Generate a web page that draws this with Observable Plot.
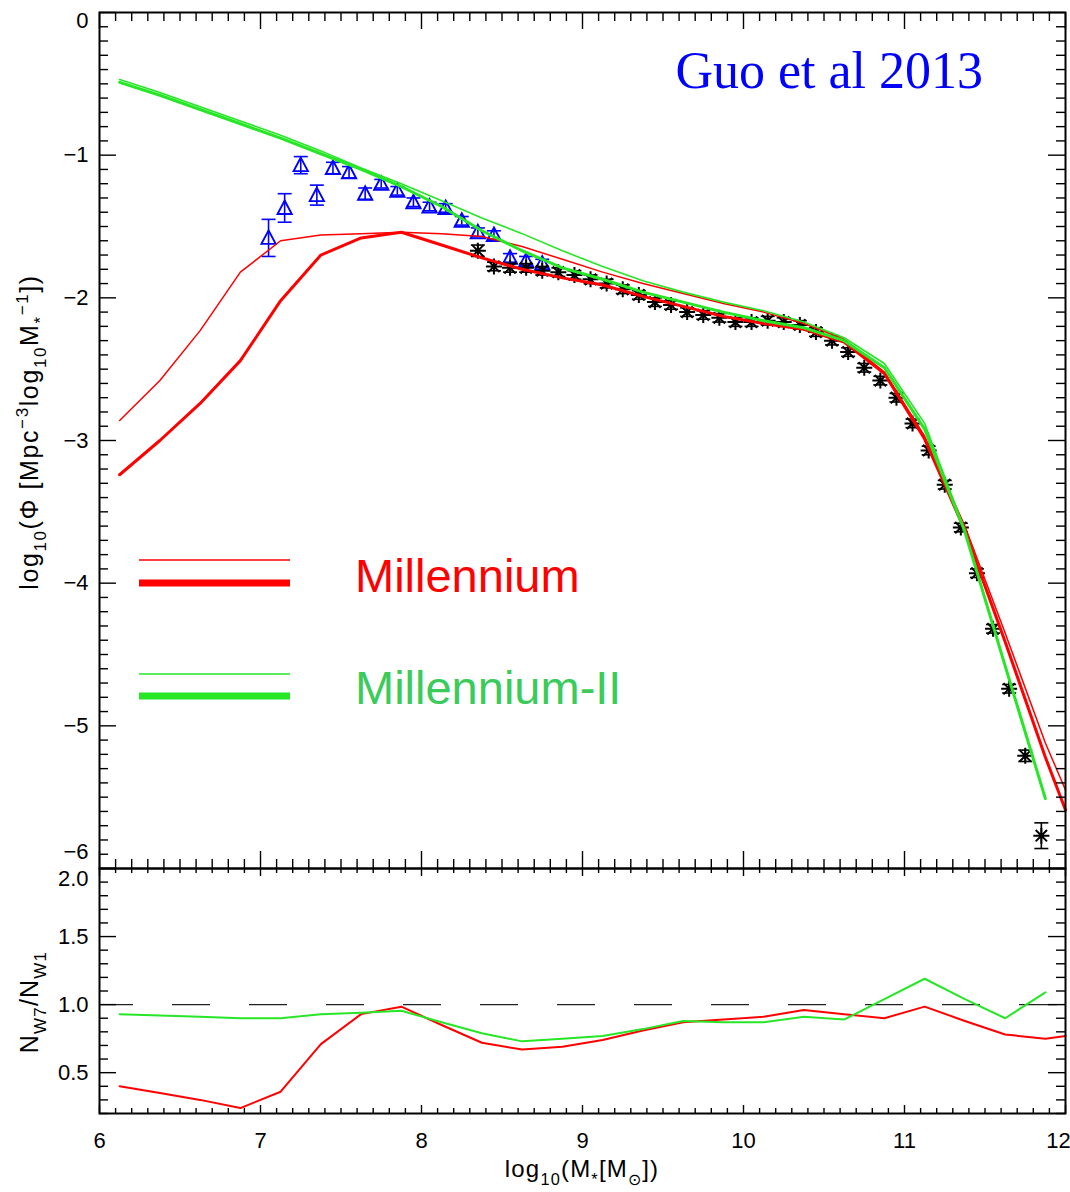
<!DOCTYPE html>
<html>
<head>
<meta charset="utf-8">
<script src="https://cdn.jsdelivr.net/npm/d3@7"></script>
<script src="https://cdn.jsdelivr.net/npm/@observablehq/plot@0.6"></script>
<style>
  html, body { margin: 0; padding: 0; background: #fff; }
  #chart { width: 1070px; }
  #chart svg { display: block; }
</style>
</head>
<body>
<div id="chart"></div>
<script>
// ---- Model stellar mass functions (log10 M*, 0.25 dex bins) ----
const modelMass = [6.125, 6.375, 6.625, 6.875, 7.125, 7.375, 7.625, 7.875, 8.125, 8.375, 8.625, 8.875,
  9.125, 9.375, 9.625, 9.875, 10.125, 10.375, 10.625, 10.875, 11.125, 11.375, 11.625, 11.875];
const redMass = [6.125, 6.375, 6.625, 6.875, 7.125, 7.375, 7.625, 7.875, 8.125, 8.375, 8.625, 8.875,
  9.125, 9.375, 9.625, 9.875, 10.125, 10.375, 10.625, 10.875, 11.125, 11.375, 11.625, 11.875, 12.0];

// Millennium (thin / thick)
const millThin = [-2.86, -2.58, -2.23, -1.82, -1.60, -1.56, -1.55, -1.54, -1.55, -1.57, -1.64, -1.73,
  -1.82, -1.90, -1.97, -2.04, -2.10, -2.18, -2.29, -2.52, -2.97, -3.60, -4.35, -5.12, -5.45];
const millThick = [-3.24, -3.00, -2.74, -2.44, -2.02, -1.70, -1.58, -1.54, -1.63, -1.72, -1.80, -1.86,
  -1.91, -1.99, -2.06, -2.13, -2.18, -2.22, -2.31, -2.53, -2.99, -3.63, -4.41, -5.22, -5.59];

// Millennium-II (thin / thick)
const mill2Thin = [-0.47, -0.56, -0.66, -0.76, -0.86, -0.97, -1.09, -1.20, -1.32, -1.44, -1.55, -1.67,
  -1.78, -1.88, -1.96, -2.03, -2.09, -2.17, -2.28, -2.46, -2.88, -3.63, -4.58, -5.51];
const mill2Thick = [-0.49, -0.58, -0.68, -0.78, -0.88, -0.99, -1.10, -1.22, -1.36, -1.53, -1.67, -1.79,
  -1.87, -1.96, -2.03, -2.10, -2.16, -2.21, -2.30, -2.49, -2.92, -3.64, -4.58, -5.51];

// ---- Ratio panel N_W7 / N_W1 ----
const ratioMill = [0.40, 0.35, 0.30, 0.24, 0.36, 0.71, 0.93, 0.985, 0.85, 0.72, 0.67, 0.69,
  0.74, 0.81, 0.87, 0.89, 0.91, 0.96, 0.93, 0.90, 0.985, 0.88, 0.78, 0.75, 0.77];
const ratioMill2 = [0.93, 0.92, 0.91, 0.90, 0.90, 0.93, 0.94, 0.955, 0.87, 0.79, 0.73, 0.75,
  0.77, 0.82, 0.88, 0.87, 0.87, 0.91, 0.89, 1.04, 1.19, 1.04, 0.90, 1.09];

// ---- Observations: low-mass (triangles) ----
const triMass = [7.05, 7.15, 7.25, 7.35, 7.45, 7.55, 7.65, 7.75, 7.85, 7.95, 8.05, 8.15, 8.25, 8.35, 8.45, 8.55, 8.65, 8.75];
const triPhi  = [-1.58, -1.37, -1.07, -1.28, -1.09, -1.12, -1.27, -1.20, -1.25, -1.33, -1.36, -1.37, -1.46, -1.54, -1.56, -1.72, -1.74, -1.76];
const triErr  = [0.13, 0.10, 0.06, 0.07, 0.04, 0.04, 0.04, 0.03, 0.03, 0.03, 0.03, 0.03, 0.03, 0.03, 0.03, 0.03, 0.03, 0.03];

// ---- Observations: SDSS (asterisks) ----
const starMass = [8.35, 8.45, 8.55, 8.65, 8.75, 8.85, 8.95, 9.05, 9.15, 9.25, 9.35, 9.45, 9.55, 9.65, 9.75, 9.85, 9.95,
  10.05, 10.15, 10.25, 10.35, 10.45, 10.55, 10.65, 10.75, 10.85, 10.95, 11.05, 11.15, 11.25, 11.35, 11.45, 11.55, 11.65, 11.75, 11.85];
const starPhi = [-1.67, -1.78, -1.79, -1.79, -1.81, -1.82, -1.84, -1.87, -1.90, -1.94, -1.98, -2.03, -2.05, -2.10, -2.12, -2.14, -2.17,
  -2.17, -2.16, -2.17, -2.19, -2.24, -2.30, -2.38, -2.49, -2.58, -2.70, -2.88, -3.07, -3.31, -3.61, -3.93, -4.32, -4.74, -5.21, -5.77];
const starErr = [0.04, 0.03, 0.03, 0.03, 0.03, 0.03, 0.03, 0.03, 0.03, 0.03, 0.03, 0.03, 0.03, 0.03, 0.03, 0.03, 0.03,
  0.03, 0.03, 0.03, 0.03, 0.03, 0.03, 0.03, 0.03, 0.03, 0.03, 0.03, 0.03, 0.03, 0.03, 0.03, 0.03, 0.03, 0.04, 0.09];

// ---- Axis ticks ----
const xMajor = [6, 7, 8, 9, 10, 11, 12];
const xMinor = d3.range(60, 121).filter(i => i % 10 !== 0).map(i => i / 10);
const phiMajor = [0, -1, -2, -3, -4, -5, -6];
const phiMinor = d3.range(-60, 1).filter(i => i % 10 !== 0).map(i => i / 10);
const ratioMajor = [0.5, 1.0, 1.5, 2.0];
const ratioMinor = d3.range(2, 21).filter(i => i % 5 !== 0).map(i => i / 10);

// ---- Colours & fonts ----
const RED = "#ff0000";
const GREEN = "#26e626";
const GREEN_TEXT = "#3acb5a";
const BLUE = "#0000ff";
const SANS = "'Liberation Sans', Arial, Helvetica, sans-serif";
const SERIF = "'Liberation Serif', 'Times New Roman', serif";

// ---- Layout ----
const W = 1070, ML = 99, MR = 5;
const FW = W - ML - MR;             // frame width
const TOP_H = 868, TOP_MT = 12;     // upper panel svg
const BOT_H = 324, BOT_MB = 79;     // lower panel svg
const TOP_FH = TOP_H - TOP_MT;
const BOT_FH = BOT_H - BOT_MB;

// ---- Custom symbols ----
const asterisk = {
  draw(ctx, size) {
    const r = Math.sqrt(size / Math.PI), d = r * Math.SQRT1_2;
    ctx.moveTo(-r, 0); ctx.lineTo(r, 0);
    ctx.moveTo(0, -r); ctx.lineTo(0, r);
    ctx.moveTo(-d, -d); ctx.lineTo(d, d);
    ctx.moveTo(-d, d); ctx.lineTo(d, -d);
  }
};
const openTriangle = {
  draw(ctx, size) {
    const r = Math.sqrt(size / Math.PI);
    ctx.moveTo(0, -r);
    ctx.lineTo(r * 0.95, r * 0.8);
    ctx.lineTo(-r * 0.95, r * 0.8);
    ctx.closePath();
  }
};
const cap = {
  draw(ctx, size) {
    const r = Math.sqrt(size / Math.PI);
    ctx.moveTo(-r, 0); ctx.lineTo(r, 0);
  }
};

// Inward ticks on both opposite edges of a frame
function ticksX(values, len, fh) {
  const o = {x: d => d, stroke: "black", strokeWidth: 1.4};
  return [Plot.tickX(values, {...o, insetBottom: fh - len}), Plot.tickX(values, {...o, insetTop: fh - len})];
}
function ticksY(values, len, fw) {
  const o = {y: d => d, stroke: "black", strokeWidth: 1.4};
  return [Plot.tickY(values, {...o, insetRight: fw - len}), Plot.tickY(values, {...o, insetLeft: fw - len})];
}

// Text with sub/superscripts, drawn as a render-function mark
function richText(parts, {x, y, size, rotate = 0, fill = "black", family = SANS, anchor = "middle", spacing = 0}) {
  return (index, scales, values, dims) => {
    const px = typeof x === "function" ? x(dims) : x;
    const py = typeof y === "function" ? y(dims) : y;
    const t = d3.create("svg:text")
      .attr("transform", `translate(${px},${py}) rotate(${rotate})`)
      .attr("text-anchor", anchor)
      .attr("font-family", family)
      .attr("font-size", size)
      .attr("letter-spacing", spacing)
      .attr("fill", fill);
    let shift = 0;
    for (const [str, kind] of parts) {
      const target = kind === "sub" ? size * 0.32 : kind === "sup" ? -size * 0.42 : 0;
      const span = t.append("tspan").attr("dy", target - shift).text(str);
      if (kind) span.attr("font-size", size * 0.68);
      shift = target;
    }
    return t.node();
  };
}

function legend(index, scales, values, dims) {
  const g = d3.create("svg:g");
  const x0 = dims.marginLeft + 40, x1 = dims.marginLeft + 191, tx = dims.marginLeft + 256;
  const rows = [
    {label: "Millennium", line: RED, text: RED, thin: 548, thick: 571, base: 580},
    {label: "Millennium-II", line: GREEN, text: GREEN_TEXT, thin: 662, thick: 684, base: 692}
  ];
  for (const r of rows) {
    g.append("line").attr("x1", x0).attr("x2", x1)
      .attr("y1", dims.marginTop + r.thin).attr("y2", dims.marginTop + r.thin)
      .attr("stroke", r.line).attr("stroke-width", 1.3);
    g.append("line").attr("x1", x0).attr("x2", x1)
      .attr("y1", dims.marginTop + r.thick).attr("y2", dims.marginTop + r.thick)
      .attr("stroke", r.line).attr("stroke-width", 7);
    g.append("text").attr("x", tx).attr("y", dims.marginTop + r.base)
      .attr("text-anchor", "start")
      .attr("font-family", SANS).attr("font-size", 47).attr("fill", r.text).text(r.label);
  }
  return g.node();
}

function title(index, scales, values, dims) {
  return d3.create("svg:text")
    .attr("x", dims.width - dims.marginRight - 82)
    .attr("y", dims.marginTop + 76)
    .attr("text-anchor", "end")
    .attr("font-family", SERIF)
    .attr("font-size", 52)
    .attr("fill", BLUE)
    .text("Guo et al 2013").node();
}

const minus = d => (d < 0 ? "\u2212" + (-d) : String(d));
const style = {background: "transparent", overflow: "visible", color: "black", fontFamily: SANS};
const tickText = {anchor: "left", tickSize: 0, tickPadding: 11, fontSize: 22};

// ---------------- Upper panel: stellar mass function ----------------
const upper = Plot.plot({
  width: W, height: TOP_H,
  marginLeft: ML, marginRight: MR, marginTop: TOP_MT, marginBottom: 0,
  x: {domain: [6, 12], axis: null},
  y: {domain: [-6, 0], label: null},
  style,
  marks: [
    // error bars and caps
    Plot.ruleX(triMass, {x: d => d, y1: (d, i) => triPhi[i] - triErr[i], y2: (d, i) => triPhi[i] + triErr[i], stroke: BLUE, strokeWidth: 1.6}),
    Plot.dot(triMass, {x: d => d, y: (d, i) => triPhi[i] - triErr[i], symbol: cap, r: 7, stroke: BLUE, strokeWidth: 1.6, fill: "none"}),
    Plot.dot(triMass, {x: d => d, y: (d, i) => triPhi[i] + triErr[i], symbol: cap, r: 7, stroke: BLUE, strokeWidth: 1.6, fill: "none"}),
    Plot.dot(triMass, {x: d => d, y: (d, i) => triPhi[i], symbol: openTriangle, r: 7.5, stroke: BLUE, strokeWidth: 1.9, fill: "none"}),

    Plot.ruleX(starMass, {x: d => d, y1: (d, i) => starPhi[i] - starErr[i], y2: (d, i) => starPhi[i] + starErr[i], stroke: "black", strokeWidth: 1.6}),
    Plot.dot(starMass, {x: d => d, y: (d, i) => starPhi[i] - starErr[i], symbol: cap, r: 7, stroke: "black", strokeWidth: 1.6, fill: "none"}),
    Plot.dot(starMass, {x: d => d, y: (d, i) => starPhi[i] + starErr[i], symbol: cap, r: 7, stroke: "black", strokeWidth: 1.6, fill: "none"}),
    Plot.dot(starMass, {x: d => d, y: (d, i) => starPhi[i], symbol: asterisk, r: 8, stroke: "black", strokeWidth: 2, fill: "none"}),

    // model curves
    Plot.line(redMass, {x: d => d, y: (d, i) => millThin[i], stroke: RED, strokeWidth: 1.5}),
    Plot.line(redMass, {x: d => d, y: (d, i) => millThick[i], stroke: RED, strokeWidth: 3}),
    Plot.line(modelMass, {x: d => d, y: (d, i) => mill2Thin[i], stroke: GREEN, strokeWidth: 1.6}),
    Plot.line(modelMass, {x: d => d, y: (d, i) => mill2Thick[i], stroke: GREEN, strokeWidth: 3}),

    // frame and ticks
    ticksX(xMajor, 17, TOP_FH), ticksX(xMinor, 9, TOP_FH),
    ticksY(phiMajor, 17, FW), ticksY(phiMinor, 9, FW),
    Plot.frame({stroke: "black", strokeWidth: 2}),
    Plot.axisY([-1, -2, -3, -4, -5], {...tickText, tickFormat: minus}),
    Plot.axisY([0], {...tickText, tickFormat: minus, dy: 8}),
    Plot.axisY([-6], {...tickText, tickFormat: minus, dy: -17}),

    richText([["log"], ["10", "sub"], ["(\u03A6 [Mpc"], ["\u22123", "sup"], ["log"], ["10", "sub"], ["M"], ["*", "sub"], ["\u22121", "sup"], ["])"]],
      {x: 38, y: dims => (dims.marginTop + dims.height - dims.marginBottom) / 2 - 8, size: 25, rotate: -90, spacing: 1.6}),
    legend,
    title
  ]
});

// ---------------- Lower panel: ratio ----------------
const lower = Plot.plot({
  width: W, height: BOT_H,
  marginLeft: ML, marginRight: MR, marginTop: 0, marginBottom: BOT_MB,
  x: {domain: [6, 12]},
  y: {domain: [0.2, 2.0], label: null},
  style,
  marks: [
    Plot.ruleY([1], {stroke: "#222", strokeWidth: 1.3, strokeDasharray: "38,39", strokeDashoffset: 4}),
    Plot.line(redMass, {x: d => d, y: (d, i) => ratioMill[i], stroke: RED, strokeWidth: 2}),
    Plot.line(modelMass, {x: d => d, y: (d, i) => ratioMill2[i], stroke: GREEN, strokeWidth: 2}),

    ticksX(xMajor, 8, BOT_FH), ticksX(xMinor, 5, BOT_FH),
    ticksY(ratioMajor, 17, FW), ticksY(ratioMinor, 9, FW),
    Plot.frame({stroke: "black", strokeWidth: 2}),
    Plot.axisX([6, 7, 8, 9, 10, 11], {anchor: "bottom", tickSize: 0, tickPadding: 19, fontSize: 22, tickFormat: d => String(d)}),
    Plot.axisX([12], {anchor: "bottom", tickSize: 0, tickPadding: 19, fontSize: 22, tickFormat: d => String(d), dx: -7}),
    Plot.axisY([0.5, 1.0, 1.5], {...tickText, tickFormat: d3.format(".1f")}),
    Plot.axisY([2.0], {...tickText, tickFormat: d3.format(".1f"), dy: 10}),

    richText([["N"], ["W7", "sub"], ["/N"], ["W1", "sub"]],
      {x: 38, y: 134, size: 25, rotate: -90, spacing: 1.2}),
    richText([["log"], ["10", "sub"], ["(M"], ["*", "sub"], ["[M"], ["\u2299", "sub"], ["])"]],
      {x: dims => (dims.marginLeft + dims.width - dims.marginRight) / 2, y: 309, size: 24, spacing: 1.2})
  ]
});

const chart = document.getElementById("chart");
chart.appendChild(upper);
chart.appendChild(lower);
</script>
</body>
</html>
